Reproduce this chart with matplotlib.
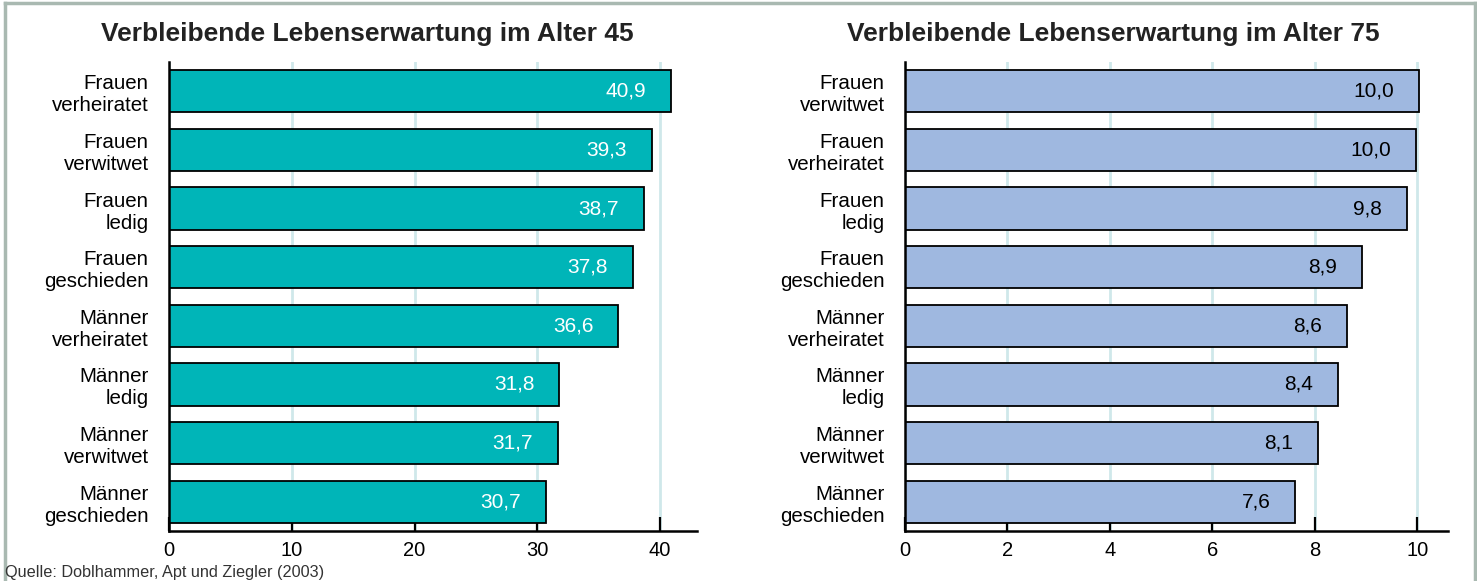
import numpy as np
import matplotlib
matplotlib.use("Agg")
import matplotlib.pyplot as plt
from matplotlib.lines import Line2D

plt.rcParams["font.family"] = ["Liberation Sans", "DejaVu Sans"]

# ----------------------------
# Data
# ----------------------------
labels_45 = ["Frauen\nverheiratet", "Frauen\nverwitwet", "Frauen\nledig", "Frauen\ngeschieden",
             "Männer\nverheiratet", "Männer\nledig", "Männer\nverwitwet", "Männer\ngeschieden"]
values_45 = [40.9, 39.3, 38.7, 37.8, 36.6, 31.8, 31.7, 30.7]

labels_75 = ["Frauen\nverwitwet", "Frauen\nverheiratet", "Frauen\nledig", "Frauen\ngeschieden",
             "Männer\nverheiratet", "Männer\nledig", "Männer\nverwitwet", "Männer\ngeschieden"]
values_75 = [10.04, 9.98, 9.8, 8.93, 8.63, 8.45, 8.06, 7.62]
texts_75 = ["10,0", "10,0", "9,8", "8,9", "8,6", "8,4", "8,1", "7,6"]

ticks_45 = [0, 10, 20, 30, 40]
ticks_75 = [0, 2, 4, 6, 8, 10]

titles = ["Verbleibende Lebenserwartung im Alter 45", "Verbleibende Lebenserwartung im Alter 75"]
source = "Quelle: Doblhammer, Apt und Ziegler (2003)"

TEAL = "#00b5b8"
BLUE = "#9fb8e0"
GRID = "#cfe8ea"

W, H = 1477, 581
fig = plt.figure(figsize=(W / 100, H / 100), dpi=100)

ax1 = fig.add_axes([169 / W, 1 - 531 / H, (697 - 169) / W, (531 - 62) / H])
ax2 = fig.add_axes([905 / W, 1 - 531 / H, (1448 - 905) / W, (531 - 62) / H])


def draw_panel(ax, labels, values, texts, ticks, xmax, color, txtcolor):
    y = np.arange(len(values))
    ax.barh(y, values, height=0.72, color=color, edgecolor="black", linewidth=1.3, zorder=3)
    for yi, v, t in zip(y, values, texts):
        ax.annotate(t, xy=(v, yi), xytext=(-25, 0), textcoords="offset pixels",
                    ha="right", va="center", fontsize=15, color=txtcolor, zorder=4)
    ax.set_ylim(len(values) - 0.5, -0.5)
    ax.set_xlim(0, xmax)
    ax.set_yticks(y)
    ax.set_yticklabels(labels, fontsize=14.8, linespacing=1.2)
    ax.set_xticks(ticks)
    ax.set_xticklabels([str(t) for t in ticks], fontsize=14.5)
    ax.tick_params(axis="y", length=0, pad=14.5)
    ax.tick_params(axis="x", direction="in", length=10, width=1.6, pad=7)
    ax.grid(axis="x", color=GRID, linewidth=2, zorder=0)
    for s in ["top", "right"]:
        ax.spines[s].set_visible(False)
    for s in ["left", "bottom"]:
        ax.spines[s].set_linewidth(1.8)
        ax.spines[s].set_zorder(5)


draw_panel(ax1, labels_45, values_45, [f"{v:.1f}".replace(".", ",") for v in values_45],
           ticks_45, 43.0, TEAL, "white")
draw_panel(ax2, labels_75, values_75, texts_75, ticks_75, 10.6, BLUE, "black")

fig.text(367 / W, 1 - 34 / H, titles[0], ha="center", va="center", fontsize=19, fontweight="bold",
         color="#222222")
fig.text(1113 / W, 1 - 34 / H, titles[1], ha="center", va="center", fontsize=19, fontweight="bold",
         color="#222222")
fig.text(5 / W, 1 - 573 / H, source, ha="left", va="center", fontsize=11.7, color="#333333")

# frame around the figure
frame = "#a9b9b1"
fig.add_artist(Line2D([4.5 / W, 4.5 / W], [0, 1 - 2.5 / H], color=frame, lw=2.5, transform=fig.transFigure))
fig.add_artist(Line2D([4.5 / W, 1 - 2 / W], [1 - 2.5 / H, 1 - 2.5 / H], color=frame, lw=2.5,
                      transform=fig.transFigure))
fig.add_artist(Line2D([1 - 2 / W, 1 - 2 / W], [0, 1 - 2.5 / H], color=frame, lw=2.5, transform=fig.transFigure))

fig.savefig("out.png", dpi=100)
